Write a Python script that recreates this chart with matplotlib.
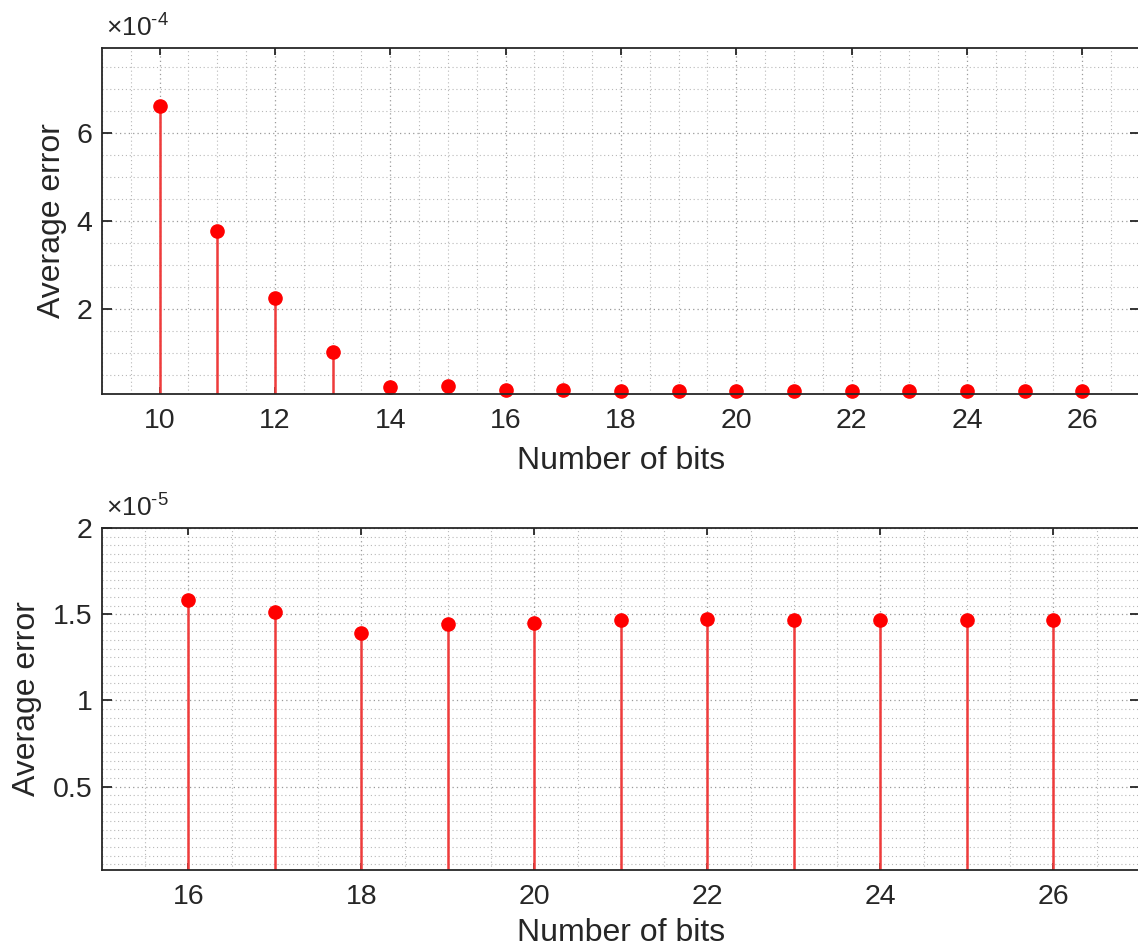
import matplotlib
matplotlib.use('Agg')
import matplotlib.pyplot as plt
from matplotlib.ticker import FuncFormatter, MultipleLocator

plt.rcParams['font.family'] = ['Liberation Sans', 'DejaVu Sans']
plt.rcParams['mathtext.fontset'] = 'custom'
plt.rcParams['mathtext.rm'] = 'Liberation Sans'
plt.rcParams['mathtext.default'] = 'regular'

# data
bits_all = [10, 11, 12, 13, 14, 15, 16, 17, 18, 19, 20, 21, 22, 23, 24, 25, 26]
err_all = [6.61e-4, 3.77e-4, 2.25e-4, 1.02e-4, 2.4e-5, 2.45e-5,
           1.58e-5, 1.51e-5, 1.39e-5, 1.445e-5, 1.45e-5, 1.465e-5,
           1.47e-5, 1.465e-5, 1.465e-5, 1.465e-5, 1.465e-5]
bits_zoom = [16, 17, 18, 19, 20, 21, 22, 23, 24, 25, 26]
err_zoom = [1.58e-5, 1.51e-5, 1.39e-5, 1.445e-5, 1.45e-5, 1.465e-5,
            1.47e-5, 1.465e-5, 1.465e-5, 1.465e-5, 1.465e-5]

TXT = '#262626'
STEM = '#ee3b3b'
DOT = '#ff0000'


def stem_panel(ax, x, y, scale, exp, xlim, ylim, xminor, yminor, xlabelpad, ylabelpad):
    ax.vlines(x, 0, y, colors=STEM, linewidth=1.8, zorder=2)
    ax.plot(x, y, 'o', color=DOT, markersize=9.5, clip_on=False, zorder=2.2)
    ax.set_xlim(*xlim)
    ax.set_ylim(*ylim)
    ax.xaxis.set_major_locator(MultipleLocator(2))
    ax.xaxis.set_minor_locator(MultipleLocator(xminor))
    ax.yaxis.set_minor_locator(MultipleLocator(yminor))
    ax.yaxis.set_major_formatter(FuncFormatter(lambda v, p: '%g' % round(v / scale, 6)))
    ax.grid(True, which='major', linestyle=(0, (1, 2.5)), color='#9a9a9a', linewidth=0.9)
    ax.grid(True, which='minor', linestyle=(0, (1, 2.5)), color='#b8b8b8', linewidth=0.8)
    ax.set_axisbelow(True)
    for s in ax.spines.values():
        s.set_color(TXT)
        s.set_linewidth(1.3)
    ax.tick_params(which='both', direction='in', top=True, right=True, colors=TXT, labelsize=20.5)
    ax.tick_params(axis='x', which='major', length=5, width=1.3, pad=10)
    ax.tick_params(axis='y', which='major', length=7.5, width=1.3, pad=7)
    ax.tick_params(which='minor', length=0)
    ax.set_xlabel('Number of bits', fontsize=23, color=TXT, labelpad=xlabelpad)
    ax.set_ylabel('Average error', fontsize=23, color=TXT, labelpad=ylabelpad)
    ax.text(0.004, 1.018, r'$\times10^{\text{-}%d}$' % abs(exp), transform=ax.transAxes,
            fontsize=19, color=TXT, ha='left', va='bottom')


fig = plt.figure(figsize=(11.38, 9.5), dpi=100)
ax1 = fig.add_axes([102 / 1138, 1 - 394 / 950, 1038 / 1138, 346 / 950])
ax2 = fig.add_axes([102 / 1138, 1 - 870 / 950, 1038 / 1138, 342 / 950])

stem_panel(ax1, bits_all, err_all, 1e-4, -4, (9, 27), (0.07e-4, 7.93e-4), 0.5, 0.5e-4, 9, 7)
ax1.set_yticks([2e-4, 4e-4, 6e-4])
stem_panel(ax2, bits_zoom, err_zoom, 1e-5, -5, (15, 27), (0.016e-5, 2e-5), 0.5, 0.05e-5, 6, 7.5)
ax2.set_yticks([0.5e-5, 1e-5, 1.5e-5, 2e-5])

fig.savefig('out.png', dpi=100)
